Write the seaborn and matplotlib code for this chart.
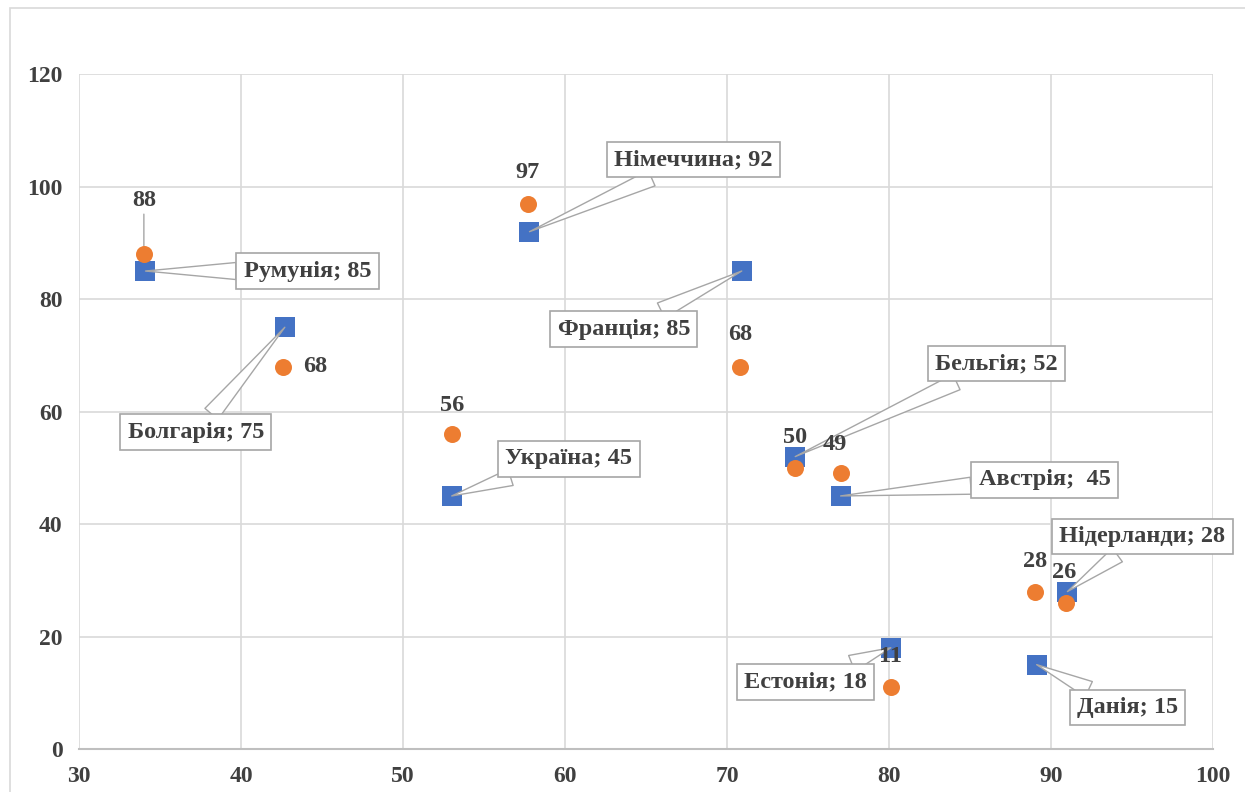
import matplotlib
matplotlib.use("Agg")
import matplotlib.pyplot as plt
import seaborn as sns
import pandas as pd
from matplotlib.patches import Rectangle

# Countries (blue series) with their x position and value
countries = ["Румунія", "Болгарія", "Україна", "Німеччина", "Франція",
             "Бельгія", "Австрія", "Нідерланди", "Естонія", "Данія"]
country_x = [34.1, 42.7, 53.0, 57.8, 70.9, 74.2, 77.0, 91.0, 80.1, 89.1]
country_y = [85, 75, 45, 92, 85, 52, 45, 28, 18, 15]
country_label_text = ["Румунія; 85", "Болгарія; 75", "Україна; 45", "Німеччина; 92",
                      "Франція; 85", "Бельгія; 52", "Австрія;  45", "Нідерланди; 28",
                      "Естонія; 18", "Данія; 15"]

# Second (orange) series
second_x = [34.0, 42.6, 53.0, 57.7, 70.8, 74.2, 77.0, 89.0, 90.9, 80.1]
second_y = [88, 68, 56, 97, 68, 50, 49, 28, 26, 11]

x_ticks = [30, 40, 50, 60, 70, 80, 90, 100]
y_ticks = [0, 20, 40, 60, 80, 100, 120]

BLUE = "#4472C4"
ORANGE = "#ED7D31"
TEXT = "#404040"
GRID = "#d9d9d9"

sns.set_theme(style="white")
plt.rcParams["font.family"] = ["Liberation Serif", "DejaVu Serif"]

fig = plt.figure(figsize=(12.45, 7.92), dpi=100)
fig.patch.set_facecolor("white")
ax = fig.add_axes([0.0635, 0.0543, 0.911, 0.852])

df_countries = pd.DataFrame({"x": country_x, "y": country_y, "name": countries})
df_second = pd.DataFrame({"x": second_x, "y": second_y})

sns.scatterplot(data=df_countries, x="x", y="y", marker="s", s=190, color=BLUE,
                edgecolor=BLUE, linewidth=0, ax=ax, zorder=3)
sns.scatterplot(data=df_second, x="x", y="y", marker="o", s=150, color=ORANGE,
                edgecolor=ORANGE, linewidth=0, ax=ax, zorder=4)

ax.set_xlim(x_ticks[0], x_ticks[-1])
ax.set_ylim(y_ticks[0], y_ticks[-1])
ax.set_xticks(x_ticks)
ax.set_yticks(y_ticks)
ax.set_xlabel("")
ax.set_ylabel("")
ax.grid(True, color=GRID, linewidth=1.2)
ax.set_axisbelow(True)
for side, sp in ax.spines.items():
    if side == "bottom":
        sp.set_color("#bfbfbf")
        sp.set_linewidth(1.5)
    else:
        sp.set_visible(False)
ax.tick_params(axis="both", length=0, labelsize=17, labelcolor=TEXT, pad=12)
for lab in ax.get_xticklabels() + ax.get_yticklabels():
    lab.set_fontweight("bold")

# Callout offsets (pixels) of each country box from its marker
callout_offsets = [(162, 0), (-89, -105), (117, 37), (164, 72), (-118, -58),
                   (201, 93), (204, 16), (75, 55), (-85, -34), (91, -43)]

box = dict(boxstyle="square,pad=0.3", fc="white", ec="#a6a6a6", lw=1.2)
for x, y, txt, (dx, dy) in zip(country_x, country_y, country_label_text, callout_offsets):
    ax.annotate(txt, xy=(x, y), xytext=(dx, dy), textcoords="offset pixels",
                ha="center", va="center", fontsize=17.5, fontweight="bold", color=TEXT,
                bbox=box, zorder=6,
                arrowprops=dict(arrowstyle="wedge,tail_width=0.7,shrink_factor=0.5",
                                fc="white", ec="#a6a6a6", lw=1.0,
                                shrinkA=0, shrinkB=0))

# Value labels of the orange series
value_offsets = [(0, 54), (32, 0), (0, 29), (0, 31), (0, 32), (0, 30),
                 (-6, 29), (0, 30), (-2, 30), (0, 31)]
for x, y, (dx, dy) in zip(second_x, second_y, value_offsets):
    ha = "center" if abs(dx) < 10 else "left"
    xt = dx if ha == "center" else dx - 12
    ax.annotate(f"{y}", xy=(x, y), xytext=(xt, dy), textcoords="offset pixels",
                ha=ha, va="center", fontsize=17.5, fontweight="bold", color=TEXT, zorder=7)
    if dy > 40:
        ax.annotate("", xy=(x, y), xytext=(0, dy - 14), textcoords="offset pixels",
                    arrowprops=dict(arrowstyle="-", color="#a6a6a6", lw=1.0,
                                    shrinkA=0, shrinkB=6), zorder=2)

# Chart area frame
fig.add_artist(Rectangle((0.008, -0.01), 1.0, 1.0, transform=fig.transFigure,
                         fill=False, ec="#d9d9d9", lw=1.2))

fig.savefig("out.png", dpi=100)
